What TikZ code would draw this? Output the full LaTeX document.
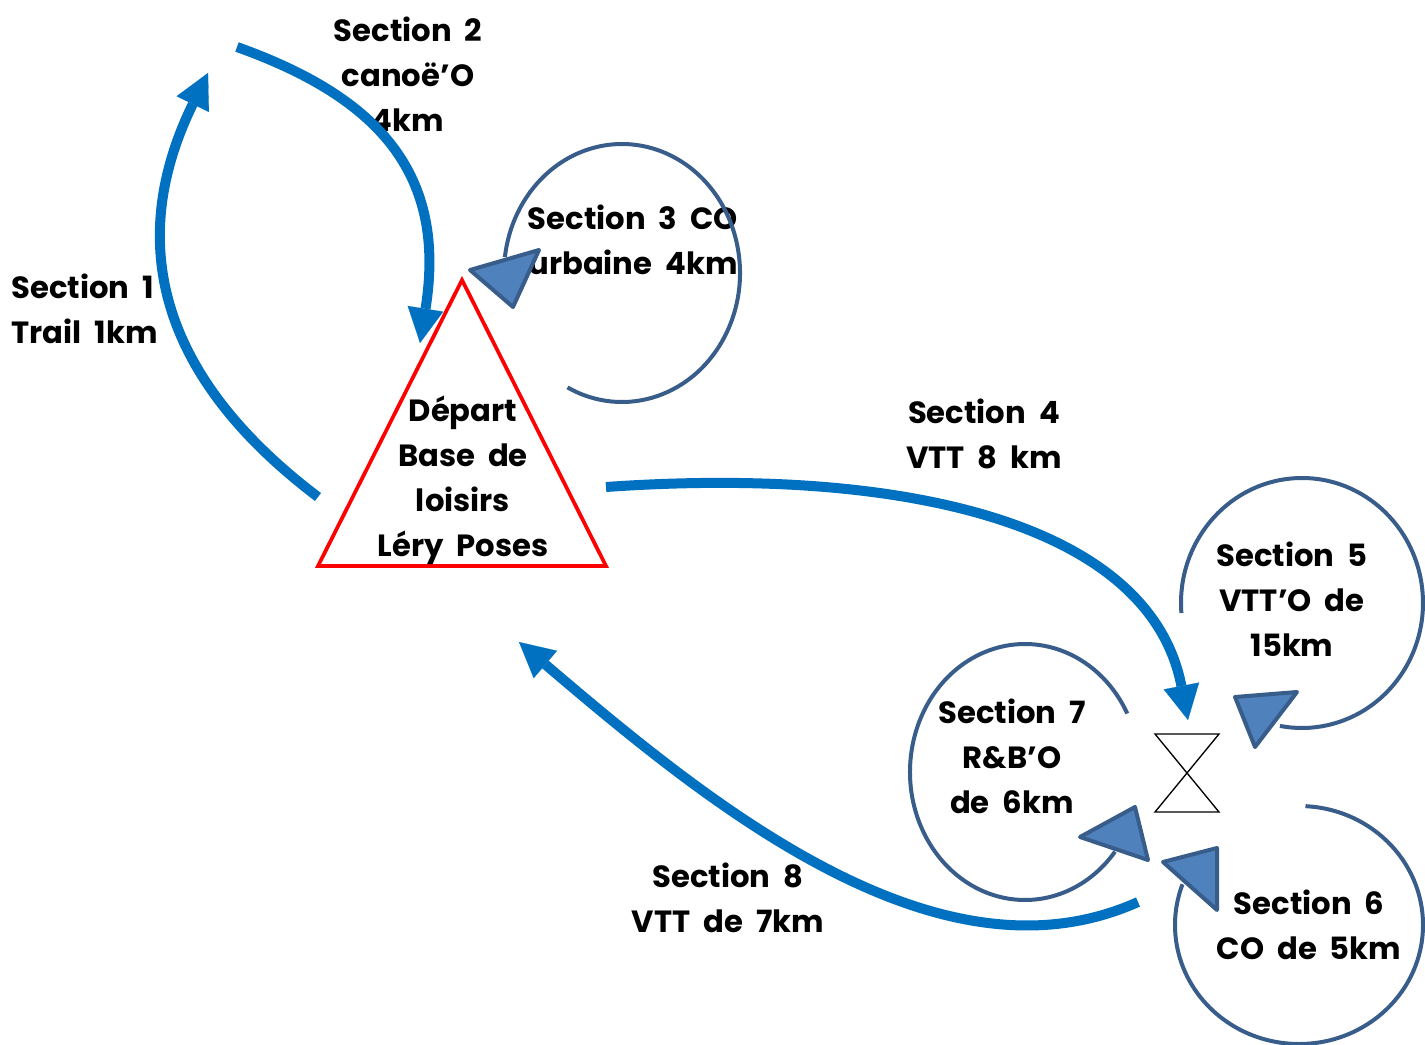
\documentclass[tikz,border=0pt]{standalone}
\usepackage{fontspec}
\setmainfont{Poppins}[WordSpace=2]
\usetikzlibrary{arrows.meta}

\definecolor{bleuFleche}{RGB}{0,112,192}
\definecolor{bleuBoucle}{RGB}{56,93,138}
\definecolor{bleuPointe}{RGB}{79,129,189}

\tikzset{every picture/.style={line width=0.75pt}}
\tikzset{
  fleche/.style={draw=bleuFleche, line width=7.5pt, -{Triangle[length=26pt,width=27pt,line width=0.1pt]}},
  boucle/.style={draw=bleuBoucle, line width=3pt},
  pointe/.style={draw=bleuBoucle, fill=bleuPointe, line width=3pt, line join=round},
  etiquette/.style={font=\fontsize{23}{33.75}\selectfont\bfseries, align=center, inner sep=0.75pt},
}

\begin{document}
\begin{tikzpicture}[x=0.75pt,y=0.75pt,yscale=-1,xscale=1]
\path[use as bounding box] (0,0) rectangle (1425,1045);

%Shape: Triangle [depart]
\draw [color=red, line width=2.8pt] (462,280) -- (606,566) -- (318,566) -- cycle ;
%Shape: Hourglass [arrivee]
\coordinate (arrivee) at (1187,773) ;
\draw [line width=1pt] ([shift={(-32,-39)}]arrivee) -- ([shift={(32,-39)}]arrivee) -- ([shift={(-32,39)}]arrivee) -- ([shift={(32,39)}]arrivee) -- cycle ;

% Text Nodes
\node [etiquette] (depart) at (463,480) {Départ\\Base de\\loisirs\\Léry Poses};
\node [etiquette, anchor=west, align=left] (sec1) at (10,309) {Section 1\\Trail 1km};
\node [etiquette] (sec2) at (408,74) {Section 2\\canoë’O\\4km};
\node [etiquette] (sec3) at (633,240) {Section 3 CO\\urbaine 4km};
\node [etiquette] (sec4) at (984,434) {Section 4\\VTT 8 km};
\node [etiquette] (sec5) at (1292,599) {Section 5\\VTT’O de\\15km};
\node [etiquette] (sec6) at (1309,925) {Section 6\\CO de 5km};
\node [etiquette] (sec7) at (1012,756) {Section 7\\R\&B’O\\de 6km};
\node [etiquette] (sec8) at (728,898) {Section 8\\VTT de 7km};

% End points of the big arrows
\coordinate (s1a) at (318,497) ;
\coordinate (s1b) at (208,73) ;
\coordinate (s2a) at (237,47) ;
\coordinate (s2b) at (420,343) ;
\coordinate (s4a) at (606,487) ;
\coordinate (s4b) at (1188,720) ;
\coordinate (s8a) at (1138,902) ;
\coordinate (s8b) at (519,642) ;

%Curve Lines [section 1]
\draw [fleche] (s1a) .. controls (166,382) and (122,249) .. (s1b) ;
%Curve Lines [section 2]
\draw [fleche] (s2a) .. controls (380,98) and (447,175) .. (s2b) ;
%Curve Lines [section 4]
\draw [fleche] (s4a) .. controls (906,466) and (1150,524) .. (s4b) ;
%Curve Lines [section 8]
\draw [fleche] (s8a) .. controls (938,992) and (709,804) .. (s8b) ;

%Arc [section 3]
\draw [boucle] ([shift={(117.5:118 and 129)}]622,273) arc [start angle=117.5, end angle=-172.9, x radius=118, y radius=129] ;
\draw [pointe] (470,270) -- (539,250) -- (513,307) -- cycle ;
%Arc [section 5]
\draw [boucle] ([shift={(175.4:121 and 125)}]1302,603) arc [start angle=175.4, end angle=460.5, x radius=121, y radius=125] ;
\draw [pointe] (1235,697) -- (1297,692) -- (1255,747) -- cycle ;
%Arc [section 6]
\draw [boucle] ([shift={(-87:124 and 119)}]1299,925) arc [start angle=-87, end angle=200, x radius=124, y radius=119] ;
\draw [pointe] (1163,862) -- (1217,848) -- (1217,910) -- cycle ;
%Arc [section 7]
\draw [boucle] ([shift={(-27.2:115 and 128)}]1025,772) arc [start angle=-27.2, end angle=-321.5, x radius=115, y radius=128] ;
\draw [pointe] (1080,837) -- (1135,807) -- (1148,860) -- cycle ;

\end{tikzpicture}
\end{document}
